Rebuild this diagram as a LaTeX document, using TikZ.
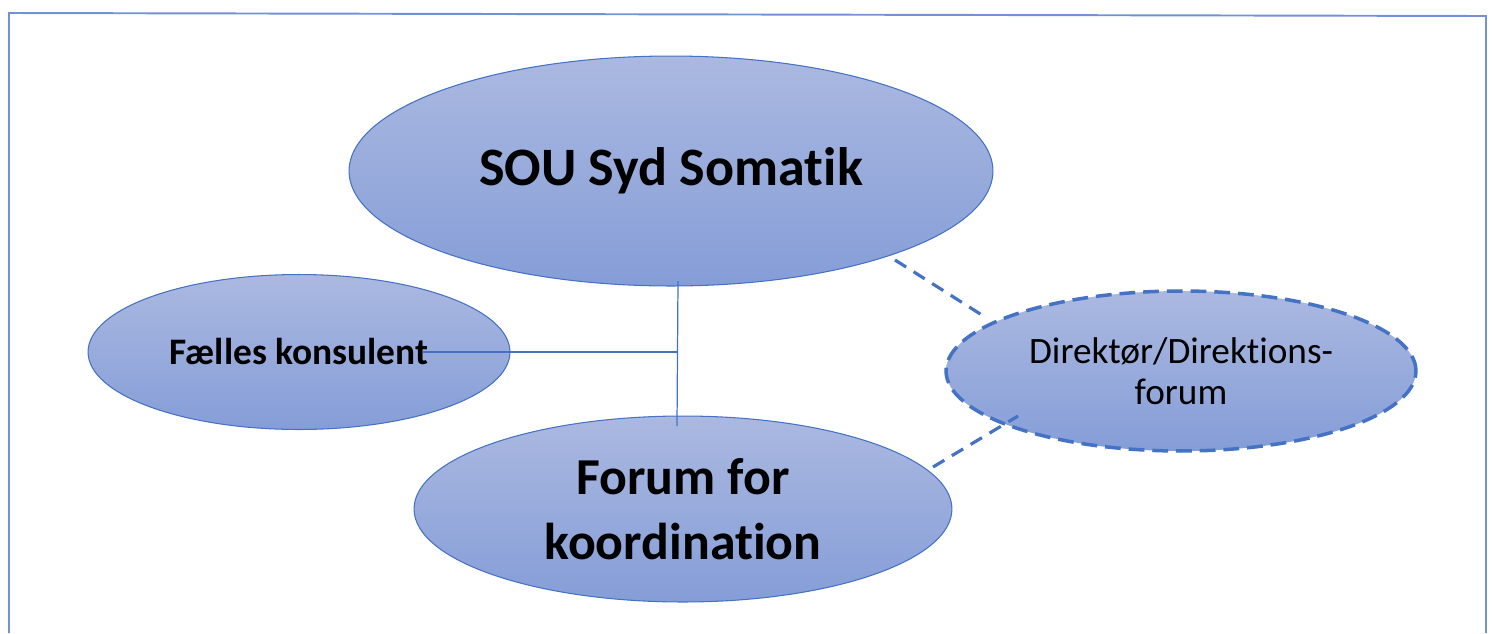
\documentclass[tikz,border=0pt]{standalone}
\usepackage{fontspec}
\setmainfont{Carlito}[RawFeature={-liga}]
\usetikzlibrary{shapes.geometric}

\definecolor{frameblue}{RGB}{114,146,216}
\definecolor{lineblue}{RGB}{68,114,196}
\definecolor{filltop}{RGB}{171,185,225}
\definecolor{fillbot}{RGB}{133,157,215}

\begin{document}
\begin{tikzpicture}[x=0.02cm,y=-0.02cm,
  bubble/.style={ellipse, draw=lineblue, line width=0.6pt, top color=filltop,
    bottom color=fillbot, inner sep=0pt, outer sep=0pt, align=center, text=black},
  link/.style={lineblue, line width=0.7pt},
  dashlink/.style={lineblue, line width=1.8pt, dash pattern=on 7.5pt off 5pt}]
\useasboundingbox (0,0) rectangle (1492,633);

% Draw the frame (open at the bottom)
  \draw[frameblue, line width=1.1pt] (9,633) -- (9,13) -- (1486,16) -- (1486,633);



% Draw the four ellipses
  \node[bubble, minimum width=12.88cm, minimum height=4.6cm,
    font=\fontsize{30.8}{37}\selectfont\bfseries] (sou) at (671,171)
    {SOU Syd Somatik};
  \node[bubble, minimum width=8.44cm, minimum height=3.1cm,
    font=\fontsize{21.3}{25}\selectfont\bfseries] (kons) at (299,352)
    {Fælles konsulent};
  \node[bubble, minimum width=10.76cm, minimum height=3.72cm,
    font=\fontsize{29.5}{37}\selectfont\bfseries] (forum) at (683,509)
    {Forum for\\koordination};
  \node[bubble, line width=2pt, dash pattern=on 9pt off 4.5pt,
    minimum width=9.4cm, minimum height=3.2cm,
    font=\fontsize{21.2}{23.5}\selectfont] (dir) at (1181,371)
    {Direktør/Direktions-\\forum};


% Draw the solid connectors
  \coordinate (vtop) at (678,281);
  \coordinate (vbot) at (677,426);
  \coordinate (hub) at (677,352);
  \coordinate (konsend) at (423,352);
  \draw[link] (vtop) -- (vbot);
  \draw[link] (konsend) -- (hub);

% Draw the dashed connectors to the director forum
  \coordinate (soudash) at (895,260);
  \coordinate (dirtop) at (985,317);
  \coordinate (forumdash) at (933,467);
  \coordinate (dirbot) at (1018,416);
  \draw[dashlink] (soudash) -- (dirtop);
  \draw[dashlink] (forumdash) -- (dirbot);

\end{tikzpicture}
\end{document}
